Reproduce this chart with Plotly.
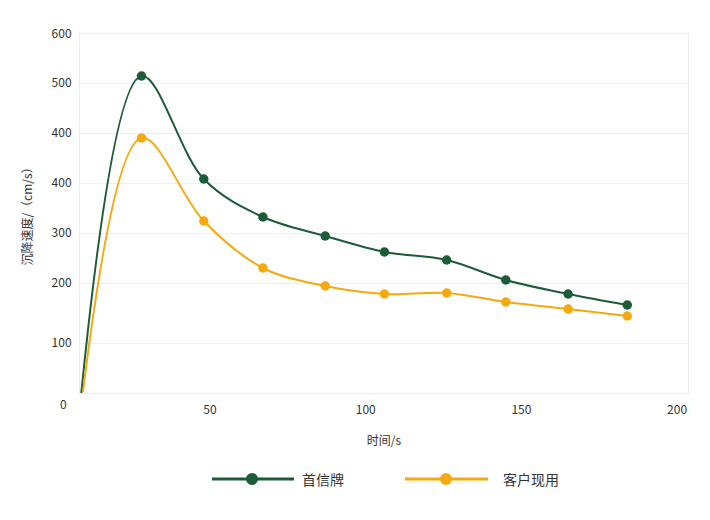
import plotly.graph_objects as go

# ---- data ----
series_names = ["首信牌", "客户现用"]
green_time = [8.6, 28, 48, 67, 87, 106, 126, 145, 165, 184]
green_vals = [-4, 634, 428, 352, 314, 282, 266, 226, 198, 176]
yellow_time = [9.2, 28, 48, 67, 87, 106, 126, 145, 165, 184]
yellow_vals = [2, 510, 344, 250, 214, 198, 200, 182, 168, 154]
y_tick_vals = [0, 100, 220, 320, 420, 520, 620, 718]
y_tick_text = ["", "100", "200", "300", "400", "400", "500", "600"]
x_tick_vals = [50, 100, 150, 200]
x_tick_text = ["50", "100", "150", "200"]

GREEN = "#1c5c36"
YELLOW = "#f6a90f"
FONT = "Noto Sans CJK SC"

fig = go.Figure()
for t, v, c in [(green_time, green_vals, GREEN), (yellow_time, yellow_vals, YELLOW)]:
    fig.add_trace(go.Scatter(
        x=t, y=v, mode="lines+markers",
        line=dict(color=c, width=2, shape="spline", smoothing=1),
        marker=dict(color=c, size=[0] + [9.5] * (len(v) - 1), opacity=1,
                    line=dict(width=0, color=c)),
        showlegend=False, hoverinfo="skip", cliponaxis=True,
    ))

fig.update_layout(
    width=710, height=520,
    margin=dict(l=80, r=22, t=34, b=127),
    paper_bgcolor="white", plot_bgcolor="white",
    font=dict(family=FONT, size=12, color="#333333"),
    xaxis=dict(
        range=[8.25, 203.5], tickvals=x_tick_vals, ticktext=x_tick_text,
        showgrid=False, zeroline=False,
        showline=True, linecolor="#ececec", linewidth=1, mirror=True,
        ticks="outside", ticklen=6, tickcolor="rgba(0,0,0,0)",
        title=dict(text="时间/s", font=dict(size=12), standoff=20),
    ),
    yaxis=dict(
        range=[0, 718], tickvals=y_tick_vals, ticktext=y_tick_text,
        showgrid=True, gridcolor="#efefef", gridwidth=1, zeroline=False,
        showline=True, linecolor="#ececec", linewidth=1, mirror=True,
        ticks="outside", ticklen=5, tickcolor="rgba(0,0,0,0)",
        title=dict(text="沉降速度/（cm/s）", font=dict(size=12), standoff=16),
    ),
)

# stray "0" label at bottom-left
fig.add_annotation(x=(63 - 80) / 608, xref="paper", y=(393 - 403) / 359, yref="paper",
                   text="0", showarrow=False, xanchor="center", yanchor="middle",
                   font=dict(size=12, color="#333333"))

# custom legend
legend_y = (393 - 479) / 359
items = [(212, 294, 252, 300, GREEN, series_names[0]),
         (405, 488, 446, 501, YELLOW, series_names[1])]
for x0, x1, xm, xt, c, name in items:
    fig.add_shape(type="line", xref="paper", yref="paper",
                  x0=(x0 - 80) / 608, x1=(x1 - 80) / 608, y0=legend_y, y1=legend_y,
                  line=dict(color=c, width=3))
    fig.add_shape(type="circle", xref="paper", yref="paper",
                  xsizemode="pixel", ysizemode="pixel",
                  xanchor=(xm - 80) / 608, yanchor=legend_y,
                  x0=-6, x1=6, y0=-6, y1=6,
                  fillcolor=c, line=dict(color=c, width=0))
    fig.add_annotation(x=(xt - 80) / 608, xref="paper", y=legend_y, yref="paper",
                       text=name, showarrow=False, xanchor="left", yanchor="middle",
                       font=dict(size=14, color="#333333"))

fig.write_html("out.html")
